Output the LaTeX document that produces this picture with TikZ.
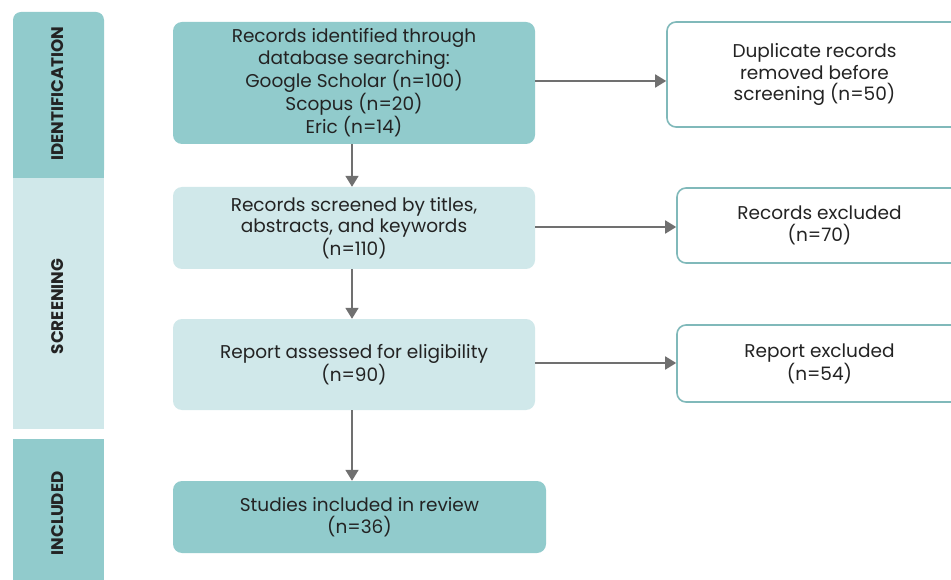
\documentclass[tikz,border=0pt]{standalone}
\usepackage{fontspec}
\setmainfont{Poppins}
\usetikzlibrary{arrows.meta}
\definecolor{tealdark}{RGB}{145,203,204}
\definecolor{teallight}{RGB}{208,232,234}
\definecolor{tealline}{RGB}{128,185,186}
\definecolor{arrowgray}{RGB}{112,112,112}
\definecolor{txt}{RGB}{35,35,35}
\tikzset{
  mainbox/.style={rounded corners=9pt, inner sep=0pt, align=center, text=txt,
    font=\fontsize{18.5}{21.5}\selectfont},
  darkbox/.style={mainbox, fill=tealdark},
  lightbox/.style={mainbox, fill=teallight},
  sidebox/.style={mainbox, fill=white, draw=tealline, line width=1.6pt},
  phase/.style={rotate=90, text=txt, font=\bfseries\fontsize{16.8}{18}\selectfont},
  flow/.style={draw=arrowgray, line width=1.8pt, -{Triangle[length=11pt,width=13pt]}},
}
\begin{document}
\begin{tikzpicture}[x=1pt,y=-1pt]
\clip (0,0) rectangle (951,580);
\fill[white] (0,0) rectangle (951,580);
% phase bars
\fill[tealdark, rounded corners=8pt] (13,12) rectangle (104,178);
\fill[tealdark] (13,100) rectangle (104,178);
\fill[teallight] (13,178) rectangle (104,429);
\fill[tealdark] (13,439) rectangle (104,590);
\node[phase] (pid) at (58,93.5) {IDENTIFICATION};
\node[phase] (psc) at (58,306.5) {SCREENING};
\node[phase] (pin) at (58,513.5) {INCLUDED};
% main boxes
\node[darkbox, minimum width=362pt, minimum height=122pt] (b1) at (354,83)
  {Records identified through\\database searching:\\Google Scholar (n=100)\\Scopus (n=20)\\Eric (n=14)};
\node[lightbox, minimum width=362pt, minimum height=82pt] (b2) at (354,228)
  {Records screened by titles,\\abstracts, and keywords\\(n=110)};
\node[lightbox, minimum width=362pt, minimum height=91pt] (b3) at (354,364.5)
  {Report assessed for eligibility\\(n=90)};
\node[darkbox, minimum width=373pt, minimum height=72pt] (b4) at (359.5,517)
  {Studies included in review\\(n=36)};
% side boxes
\node[sidebox, minimum width=295pt, minimum height=105pt] (d1) at (814.5,74.5)
  {Duplicate records\\removed before\\screening (n=50)};
\node[sidebox, minimum width=285pt, minimum height=75pt] (d2) at (819.5,225.5)
  {Records excluded\\(n=70)};
\node[sidebox, minimum width=285pt, minimum height=77pt] (d3) at (819.5,363.5)
  {Report excluded\\(n=54)};
% guide coordinates
\coordinate (ax) at (352,0);
\coordinate (y1) at (0,81);
\coordinate (y2) at (0,227);
\coordinate (y3) at (0,363);
% arrows
\draw[flow] (b1.south -| ax) -- (b2.north -| ax);
\draw[flow] (b2.south -| ax) -- (b3.north -| ax);
\draw[flow] (b3.south -| ax) -- (b4.north -| ax);
\draw[flow] (b1.east |- y1) -- (d1.west |- y1);
\draw[flow] (b2.east |- y2) -- (d2.west |- y2);
\draw[flow] (b3.east |- y3) -- (d3.west |- y3);
\end{tikzpicture}
\end{document}
